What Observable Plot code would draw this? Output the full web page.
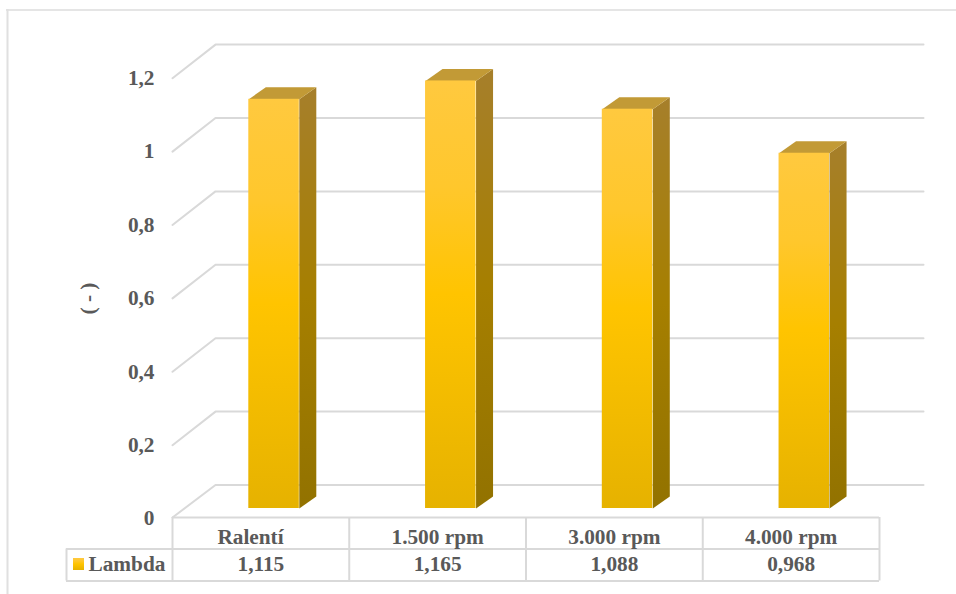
<!DOCTYPE html>
<html lang="es">
<head>
<meta charset="utf-8">
<script src="https://cdn.jsdelivr.net/npm/d3@7"></script>
<script src="https://cdn.jsdelivr.net/npm/@observablehq/plot@0.6"></script>
<style>html,body{margin:0;padding:0;background:#fff;overflow:hidden}svg{display:block}</style>
</head>
<body>
<div id="chart"></div>
<script>
const categories = ["Ralentí", "1.500 rpm", "3.000 rpm", "4.000 rpm"];
const lambda = [1.115, 1.165, 1.088, 0.968];
const lambdaLabels = ["1,115", "1,165", "1,088", "0,968"];
const yTicks = [0, 0.2, 0.4, 0.6, 0.8, 1, 1.2];
const yTickLabels = ["0", "0,2", "0,4", "0,6", "0,8", "1", "1,2"];
const seriesName = "Lambda";
const yTitle = "( - )";

// Layout, in scale units: x = category slots, y = lambda
const xUnit = 176.75, yUnit = 367;
const barOffset = 76.3 / xUnit, barW = 50.5 / xUnit, barBase = 9 / yUnit;
const depthX = 17 / xUnit, depthY = 12 / yUnit;
const wallX = 43 / xUnit, wallY = 32.5 / yUnit, wallEnd = 923;
const px = v => (v - 172) / xUnit, py = v => (517 - v) / yUnit;
const INK = "#595959", LINE = "#d9d9d9", FONT = "Liberation Serif", SIZE = 21.3;

const rows = lambda.map((v, i) => ({i, v, x1: i + barOffset, x2: i + barOffset + barW, top: barBase + v}));
const poly = (id, pts) => pts.map(([x, y]) => ({id, x, y}));
const sides = rows.flatMap(r => poly(r.i, [[r.x2, barBase], [r.x2 + depthX, barBase + depthY], [r.x2 + depthX, r.top + depthY], [r.x2, r.top], [r.x2, barBase]]));
const tops = rows.flatMap(r => poly(r.i, [[r.x1, r.top], [r.x1 + depthX, r.top + depthY], [r.x2 + depthX, r.top + depthY], [r.x2, r.top], [r.x1, r.top]]));
const grid = yTicks.flatMap(t => poly(t, [[0, t + (t === 0 ? 0 : -0.003)], [wallX, t + wallY], [px(wallEnd), t + wallY]]));
const slots = d3.range(categories.length);
const catX = [px(250), 1.5, 2.5, 3.5];

const defs = () => {
  const s = d3.create("svg:defs");
  const g = (id, stops) => {
    const l = s.append("linearGradient").attr("id", id).attr("x1", 0).attr("y1", 0).attr("x2", 0).attr("y2", 1);
    stops.forEach(([o, c]) => l.append("stop").attr("offset", o).attr("stop-color", c));
  };
  g("front", [[0, "#ffc93f"], [0.25, "#ffc72c"], [0.5, "#ffc400"], [0.62, "#f9c000"], [1, "#e6b200"]]);
  g("side", [[0, "#a67f2b"], [0.5, "#a67f00"], [1, "#927200"]]);
  return s.node();
};

const chart = Plot.plot({
  width: 956, height: 594,
  margin: 0,
  style: {background: "#fff", fontFamily: FONT},
  x: {domain: [0, 4], range: [172, 879], axis: null},
  y: {domain: [0, 1.2], range: [517, 76.6], axis: null},
  marks: [
    defs,
    // outer chart frame
    Plot.ruleY([py(9.5)], {x1: px(6), x2: px(956), stroke: "#dcdcdc", strokeWidth: 1.5}),
    Plot.ruleX([px(7)], {y1: py(9), y2: py(594), stroke: "#e0e0e0", strokeWidth: 2}),
    // gridlines on wall and side wall
    Plot.line(grid, {x: "x", y: "y", z: "id", stroke: LINE, strokeWidth: 2, curve: "linear"}),
    // data table rules
    Plot.ruleY([0], {x1: 0, x2: 4, stroke: LINE, strokeWidth: 2}),
    Plot.ruleY([py(548.5), py(580.5)], {x1: px(66), x2: 4, stroke: LINE, strokeWidth: 2}),
    Plot.ruleX([0, 1, 2, 3, 4], {y1: 0, y2: py(580.5), stroke: LINE, strokeWidth: 2}),
    Plot.ruleX([px(66)], {y1: py(548.5), y2: py(580.5), stroke: LINE, strokeWidth: 2}),
    // 3-D bars
    Plot.line(sides, {x: "x", y: "y", z: "id", fill: "url(#side)", stroke: "none"}),
    Plot.line(tops, {x: "x", y: "y", z: "id", fill: "#c29a36", stroke: "none"}),
    Plot.rect(rows, {x1: "x1", x2: "x2", y1: barBase, y2: "top", fill: "url(#front)"}),
    // y tick labels
    Plot.text(yTicks, {x: px(154), y: d => d, dy: 1, text: (d, i) => yTickLabels[i], textAnchor: "end", fill: INK, fontSize: SIZE, fontWeight: "bold"}),
    // y title
    Plot.text([yTitle], {x: px(87.5), y: py(298), rotate: -90, fill: INK, fontSize: SIZE, fontWeight: "bold"}),
    // table text
    Plot.text(slots, {x: d => catX[d], y: py(536.5), text: d => categories[d], fill: INK, fontSize: SIZE, fontWeight: "bold"}),
    Plot.text(slots, {x: d => d + 0.5, y: py(564), text: d => lambdaLabels[d], fill: INK, fontSize: SIZE, fontWeight: "bold"}),
    // legend key + name
    Plot.rect([seriesName], {x1: px(73), x2: px(84), y1: py(570), y2: py(558), fill: "url(#front)"}),
    Plot.text([seriesName], {x: px(88), y: py(564), textAnchor: "start", fill: INK, fontSize: SIZE, fontWeight: "bold"})
  ]
});
document.getElementById("chart").append(chart);
</script>
</body>
</html>
